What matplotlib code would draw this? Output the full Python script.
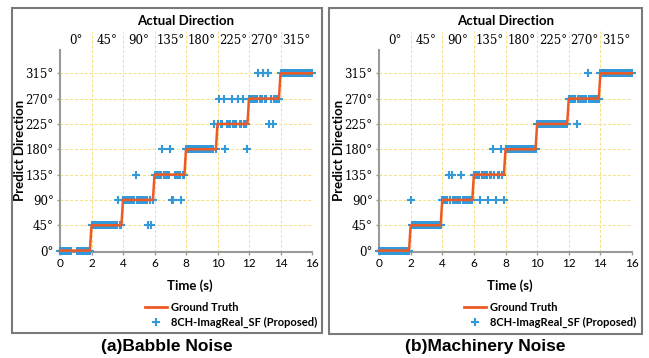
import numpy as np
import matplotlib.pyplot as plt
from matplotlib.patches import Rectangle
from matplotlib.lines import Line2D

nan = np.nan

# segments of the ground truth (seconds / degrees)
seg_start = [0, 2, 4, 6, 8, 10, 12, 14]
seg_end = [2, 4, 6, 8, 10, 12, 14, 16]
seg_angle = [0, 45, 90, 135, 180, 225, 270, 315]
angle_labels = ['0°', '45°', '90°', '135°', '180°', '225°', '270°', '315°']
time_ticks = [0, 2, 4, 6, 8, 10, 12, 14, 16]

# prediction samples every 0.1 s
sample_t = np.round(np.arange(0, 16.05, 0.1), 1)

babble_pred = (
    [0, 0, 0, 0, 0, 0, 0, 0, nan, nan, nan, 0, 0, 0, 0, 0, 0, 0, 0, 0]
    + [45, 45, 45, 45, 45, 45, 45, 45, 45, 45, 45, 45, 45, 45, 45, 45, 45, 90, 45, 45]
    + [90, 90, 90, 90, 90, 90, 90, 90, 135, 90, 90, 90, 90, 90, 90, 90, 45, 90, 45, 90]
    + [135, 135, 135, 135, 135, 180, 135, 135, 135, 135, 180, 90, 90, 135, 135, 135, 135, 90, 135, 135]
    + [180, 180, 180, 180, 180, 180, 180, 180, 180, 180, 180, 180, 180, 180, 180, 180, 180, 180, 225, 180]
    + [225, 270, 225, 225, 270, 180, 225, 225, 225, 270, 225, 225, 225, 270, 225, 225, 270, 225, 225, 180]
    + [270, 270, 270, 270, 270, 270, 315, 270, 270, 315, 270, 270, 315, 225, 270, 225, 270, 270, 270, 270]
    + [315, 315, 315, 315, 315, 315, 315, 315, 315, 315, 315, 315, 315, 315, 315, 315, 315, 315, 315, 315, 315]
)

machinery_pred = (
    [0, 0, 0, 0, 0, 0, 0, 0, 0, 0, 0, 0, 0, 0, 0, 0, 0, 0, 0, 0]
    + [90, 45, 45, 45, 45, 45, 45, 45, 45, 45, 45, 45, 45, 45, 45, 45, 45, 45, 45, 45]
    + [90, 90, 90, 90, 135, 90, 135, 90, 90, 90, 90, 90, 135, 90, 90, 90, 90, 90, 90, 90]
    + [135, 135, 135, 135, 90, 135, 135, 135, 135, 90, 135, 135, 180, 135, 90, 135, 135, 180, 135, 90]
    + [180, 180, 180, 180, 180, 180, 180, 180, 180, 180, 180, 180, 180, 180, 180, 180, 180, 180, 180, 180]
    + [225, 225, 225, 225, 225, 225, 225, 225, 225, 225, 225, 225, 225, 225, 225, 225, 225, 225, 225, 225]
    + [270, 270, 270, 270, 270, 225, 270, 270, 270, 270, 270, 270, 315, 270, 270, 270, 270, 270, 270, 270]
    + [315, 315, 315, 315, 315, 315, 315, 315, 315, 315, 315, 315, 315, 315, 315, 315, 315, 315, 315, 315, 315]
)

W, H = 649, 358
orange = '#ee5a24'
blue = '#3399d8'
grid_c = '#f8de80'
spine_c = '#9a9a9a'
label_font = 'Lato'
deg_font = 'DejaVu Serif'

# ground truth polyline built from the segments
gt_x, gt_y = [], []
for s, e, a in zip(seg_start, seg_end, seg_angle):
    gt_x += [s, e - 0.1 if e < 16 else e]
    gt_y += [a, a]

fig = plt.figure(figsize=(W / 100, H / 100), dpi=100)


def panel(x0, x1, pred, caption, frame):
    ax = fig.add_axes([x0 / W, (H - 251.7) / H, (x1 - x0) / W, 220.6 / H])
    ax.set_xlim(0, 16)
    ax.set_ylim(-2, 390)

    ax.vlines(seg_start[1:], -2, 390, colors=grid_c, linestyles=(0, (3, 2)), lw=0.7, zorder=0)
    ax.hlines(seg_angle[1:], 0, 16, colors=grid_c, linestyles=(0, (3, 2)), lw=0.7, zorder=0)

    ax.plot(sample_t, pred, ls='none', marker='+', ms=5.5, mew=1.5, color=blue, zorder=3, clip_on=False)
    ax.plot(gt_x, gt_y, color=orange, lw=1.8, zorder=4, clip_on=False)

    ax.set_xticks(time_ticks)
    ax.set_xticklabels([str(t) for t in time_ticks], fontfamily=label_font, fontsize=8.5)
    ax.set_yticks(seg_angle)
    ax.set_yticklabels(angle_labels, fontfamily=deg_font, fontsize=8.5)
    ax.tick_params(direction='out', length=2.5, width=1, color=spine_c, pad=2)

    for side in ['top', 'right']:
        ax.spines[side].set_visible(False)
    for side in ['left', 'bottom']:
        ax.spines[side].set_color(spine_c)
        ax.spines[side].set_linewidth(1.5)
    ax.spines['left'].set_bounds(-2, 356)

    for s, e, lab in zip(seg_start, seg_end, angle_labels):
        ax.text((s + e) / 2, 374, lab, ha='center', va='center', fontfamily=deg_font, fontsize=8.5)

    ax.text(0.5, 1.046, 'Actual Direction', transform=ax.transAxes, ha='center', va='center',
            fontfamily=label_font, fontweight='bold', fontsize=9.5)
    ax.text(0.516, -0.155, 'Time (s)', transform=ax.transAxes, ha='center', va='center',
            fontfamily=label_font, fontweight='bold', fontsize=9.5)
    ax.text(-0.159, 0.461, 'Predict Direction', transform=ax.transAxes, ha='center', va='center',
            rotation=90, fontfamily=label_font, fontweight='bold', fontsize=9.5)

    fx, fy0, fx1, fy1 = frame
    fig.add_artist(Rectangle((fx / W, (H - fy1) / H), (fx1 - fx) / W, (fy1 - fy0) / H,
                             transform=fig.transFigure, fill=False, ec='#7a7a7a', lw=1.5))

    handles = [Line2D([], [], color=orange, lw=2),
               Line2D([], [], ls='none', marker='+', ms=5.5, mew=1.5, color=blue)]
    fig.legend(handles, ['Ground Truth', '8CH-ImagReal_SF (Proposed)'], loc='upper left',
               bbox_to_anchor=((x0 + 85) / W, (H - 302) / H), frameon=False,
               prop={'family': label_font, 'weight': 'bold', 'size': 8},
               handlelength=2, handletextpad=0.3, labelspacing=0.35, borderpad=0, borderaxespad=0)

    fig.text((fx + fx1) / 2 / W, (H - 347) / H, caption, ha='center', va='center',
             fontfamily='Liberation Sans', fontweight='bold', fontsize=12.5)
    return ax


panel(60, 312, babble_pred, '(a)Babble Noise', (12, 8, 322, 333))
panel(379, 632, machinery_pred, '(b)Machinery Noise', (329, 8, 642, 334))

fig.savefig('out.png', dpi=100)
